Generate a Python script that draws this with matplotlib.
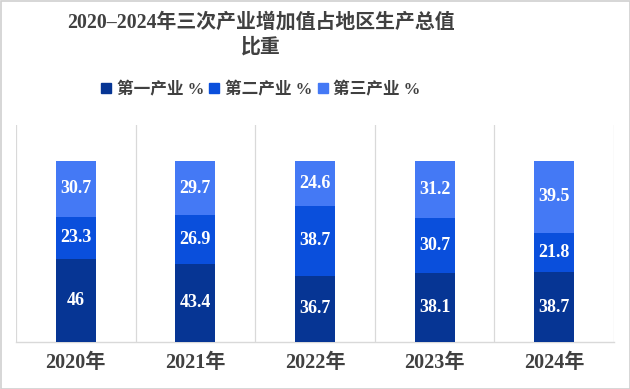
import matplotlib
matplotlib.use("Agg")
import matplotlib.pyplot as plt
from matplotlib.patches import Rectangle
import numpy as np

categories = ["2020年", "2021年", "2022年", "2023年", "2024年"]
primary = [46, 43.4, 36.7, 38.1, 38.7]
secondary = [23.3, 26.9, 38.7, 30.7, 21.8]
tertiary = [30.7, 29.7, 24.6, 31.2, 39.5]
series_names = ["第一产业 %", "第二产业 %", "第三产业 %"]
colors = ["#063594", "#0a4fdc", "#4479f5"]

FONT = ["Liberation Serif", "Noto Sans CJK SC", "DejaVu Sans"]
plt.rcParams["font.family"] = FONT

fig = plt.figure(figsize=(6.3, 3.89), dpi=100)
ax = fig.add_axes([16/630, 1 - 342/389, (614-16)/630, (342-125)/389])

x = np.arange(len(categories))
w = 0.335
bottoms = np.zeros(len(categories))
for vals, col, name in zip([primary, secondary, tertiary], colors, series_names):
    ax.bar(x, vals, w, bottom=bottoms, color=col, label=name, zorder=3)
    for xi, b, v in zip(x, bottoms, vals):
        ax.text(xi, b + v / 2, f"{v:g}", ha="center", va="center", color="white",
                fontsize=13, fontweight="bold", zorder=4)
    bottoms = bottoms + np.array(vals)

ax.set_xlim(-0.5, len(categories) - 0.5)
ax.set_ylim(0, 120)
ax.set_yticks([])
ax.set_xticks(x)
ax.set_xticklabels(categories, fontsize=14.5, fontweight="bold", color="#404040")
ax.tick_params(axis="x", length=0, pad=8)
for b in np.arange(-0.5, len(categories) + 0.5, 1):
    ax.axvline(b, color="#d9d9d9", lw=0.9, zorder=1)
for s in ["top", "left", "right"]:
    ax.spines[s].set_visible(False)
ax.spines["bottom"].set_color("#d9d9d9")
ax.spines["bottom"].set_linewidth(1.0)

cx = 261 / 630
fig.text(cx, 1 - 23/389, "2020–2024年三次产业增加值占地区生产总值", ha="center", va="center",
         fontsize=14.3, fontweight="bold", color="#404040")
fig.text(cx, 1 - 48/389, "比重", ha="center", va="center",
         fontsize=14.3, fontweight="bold", color="#404040")

handles = [Rectangle((0, 0), 1, 1, color=c) for c in colors]
fig.legend(handles, series_names, loc="center", bbox_to_anchor=(cx, 1 - 90/389),
           ncol=3, frameon=False, handlelength=0.6, handleheight=0.6,
           handletextpad=0.35, columnspacing=0.3,
           prop={"family": FONT, "weight": "bold", "size": 12}, labelcolor="#404040")

fig.patches.append(Rectangle((0.5/630, 0.5/389), 629/630, 388/389, transform=fig.transFigure,
                             fill=False, edgecolor="#d0d0d0", lw=1.2))

fig.savefig("out.png", dpi=100)
